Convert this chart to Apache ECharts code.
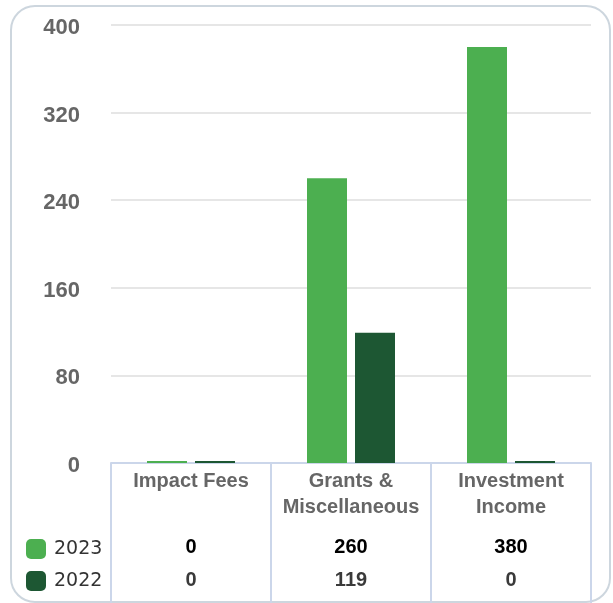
<!DOCTYPE html>
<html>
<head>
<meta charset="utf-8">
<script src="https://cdn.jsdelivr.net/npm/echarts@6/dist/echarts.min.js"></script>
<style>
  html, body { margin: 0; padding: 0; background: #fff; }
  #chart { width: 613px; height: 603px; }
</style>
</head>
<body>
<div id="chart"></div>
<script>
var categories = ['Impact Fees', 'Grants &\nMiscellaneous', 'Investment\nIncome'];
var seriesNames = ['2023', '2022'];
var values2023 = [0, 260, 380];
var values2022 = [0, 119, 0];
var yTicks = { min: 0, max: 400, interval: 80 };

var tableLine = '#cbd6ea';
var boldFont = '"Liberation Sans", Arial, sans-serif';

const myChart = echarts.init(document.getElementById('chart'));
myChart.setOption({
    backgroundColor: '#fff',
    animation: false,
    color: ['#4caf50', '#1d5733'],
    legend: {
        data: seriesNames,
        orient: 'vertical',
        left: 21,
        top: 534,
        itemWidth: 20,
        itemHeight: 20,
        itemGap: 12,
        icon: 'roundRect',
        selectedMode: false,
        textStyle: {
            color: '#333',
            fontSize: 19,
            fontFamily: '"DejaVu Sans", sans-serif',
            padding: [0, 0, 0, 3]
        }
    },
    grid: { left: 111, right: 22, top: 25, bottom: 140 },
    xAxis: [
        {
            type: 'category',
            data: categories,
            position: 'bottom',
            axisLine: { show: true, lineStyle: { color: tableLine, width: 2 } },
            axisTick: { show: true, length: 142, lineStyle: { color: tableLine, width: 2 } },
            axisLabel: {
                margin: 5,
                verticalAlign: 'top',
                color: '#666',
                fontWeight: 'bold',
                fontSize: 20,
                lineHeight: 26,
                fontFamily: boldFont,
                interval: 0
            }
        },
        {
            type: 'category',
            data: categories,
            position: 'bottom',
            axisLine: { show: false },
            axisTick: { show: false },
            axisLabel: {
                margin: 84,
                verticalAlign: 'middle',
                color: '#000',
                fontWeight: 'bold',
                fontSize: 20,
                fontFamily: boldFont,
                interval: 0,
                formatter: function (v, i) { return String(values2023[i]); }
            }
        },
        {
            type: 'category',
            data: categories,
            position: 'bottom',
            axisLine: { show: false },
            axisTick: { show: false },
            axisLabel: {
                margin: 117,
                verticalAlign: 'middle',
                color: '#3a3a3a',
                fontWeight: 'bold',
                fontSize: 20,
                fontFamily: boldFont,
                interval: 0,
                formatter: function (v, i) { return String(values2022[i]); }
            }
        }
    ],
    yAxis: {
        type: 'value',
        min: yTicks.min,
        max: yTicks.max,
        interval: yTicks.interval,
        axisLine: { show: false },
        axisTick: { show: false },
        splitLine: { lineStyle: { color: '#e6e6e6', width: 2 } },
        axisLabel: {
            margin: 31,
            color: '#666',
            fontWeight: 'bold',
            fontSize: 22,
            fontFamily: boldFont,
            verticalAlign: 'top',
            padding: [-8, 0, 0, 0]
        }
    },
    graphic: [{
        type: 'rect',
        shape: { x: 11, y: 6, width: 599, height: 596, r: 24 },
        style: { fill: 'none', stroke: '#cdd6de', lineWidth: 2 },
        z: -1
    }],
    series: [
        {
            name: seriesNames[0],
            type: 'bar',
            data: values2023,
            barWidth: 40,
            barGap: '20%',
            barMinHeight: 2
        },
        {
            name: seriesNames[1],
            type: 'bar',
            data: values2022,
            barWidth: 40,
            barGap: '20%',
            barMinHeight: 2
        }
    ]
});
</script>
</body>
</html>
